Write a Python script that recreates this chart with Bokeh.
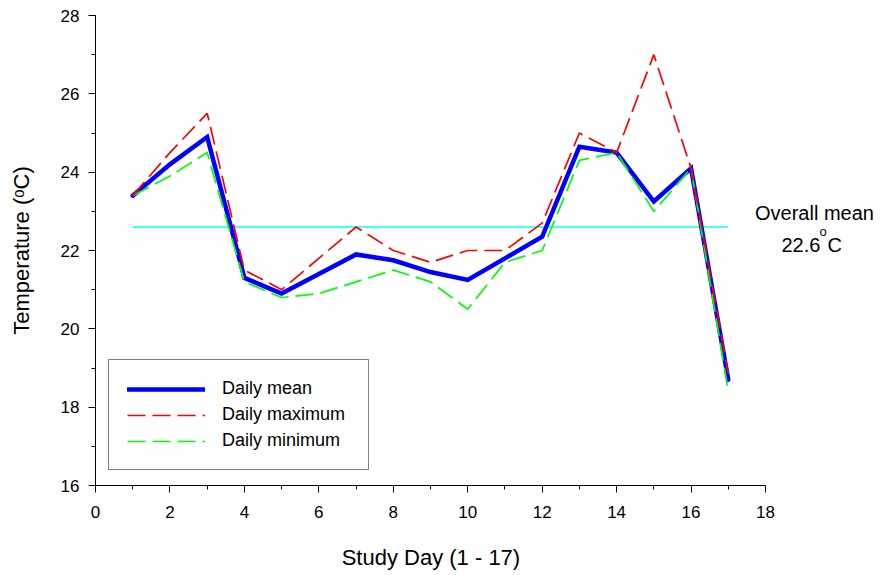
from bokeh.plotting import figure
from bokeh.models import Range1d, SingleIntervalTicker, Label, Legend, LegendItem, ColumnDataSource
from bokeh.embed import file_html
from bokeh.resources import INLINE

# ---- data ----
days = list(range(1, 18))
daily_mean = [23.4, 24.2, 24.9, 21.3, 20.9, 21.4, 21.9, 21.75, 21.45, 21.25, 21.8, 22.35, 24.65, 24.5, 23.25, 24.1, 18.7]
daily_max = [23.4, 24.5, 25.5, 21.5, 21.0, 21.8, 22.6, 22.0, 21.7, 22.0, 22.0, 22.7, 25.0, 24.5, 27.0, 24.1, 18.85]
daily_min = [23.4, 23.9, 24.5, 21.2, 20.8, 20.9, 21.2, 21.5, 21.2, 20.5, 21.7, 22.0, 24.3, 24.5, 23.0, 24.1, 18.4]
overall_mean = 22.6
mean_span = [1, 17]
x_title = "Study Day (1 - 17)"
y_title = "Temperature (\u1d52C)"
series_labels = ["Daily mean", "Daily maximum", "Daily minimum"]

FONT = "Liberation Sans"
W, H = 882, 575
L, T, B = 95, 15, 90
XMIN, XMAX, YMIN, YMAX = 0, 18, 16, 28
AXIS_W = 670                      # pixel length of the 0..18 axis
FW, FH = W - L, H - T - B          # frame extends to the right edge (room for the annotation)
XMAX_EXT = XMIN + FW * (XMAX - XMIN) / AXIS_W
# the axis title is centred on the (wider) frame; trailing no-break spaces
# shift its visible part back under the 0..18 axis
PAD = "\u00a0" * 19


def px2x(px):
    return XMIN + (px - L) * (XMAX - XMIN) / AXIS_W


def py2y(py):
    return YMIN + (T + FH - py) * (YMAX - YMIN) / FH


p = figure(width=W, height=H, x_range=Range1d(XMIN, XMAX_EXT), y_range=Range1d(YMIN, YMAX),
           output_backend="svg", toolbar_location=None,
           min_border_left=L, min_border_right=0, min_border_top=T, min_border_bottom=B)
p.outline_line_color = None
p.grid.visible = False
p.background_fill_color = "white"
p.border_fill_color = "white"

for ax in (p.xaxis[0], p.yaxis[0]):
    ax.ticker = SingleIntervalTicker(interval=2, num_minor_ticks=2)
    ax.major_tick_in = 0
    ax.major_tick_out = 7
    ax.minor_tick_in = 0
    ax.minor_tick_out = 4
    ax.axis_line_color = "black"
    ax.major_tick_line_color = "black"
    ax.minor_tick_line_color = "black"
    ax.major_label_text_font = FONT
    ax.major_label_text_font_size = "17px"
    ax.major_label_text_color = "black"
    ax.axis_label_text_font = FONT
    ax.axis_label_text_font_size = "22px"
    ax.axis_label_text_font_style = "normal"
    ax.axis_label_text_color = "black"
p.xaxis.bounds = (XMIN, XMAX)
p.xaxis.major_label_standoff = 13
p.yaxis.major_label_standoff = 9
p.xaxis.axis_label = x_title + PAD
p.xaxis.axis_label_standoff = 24
p.yaxis.axis_label = y_title
p.yaxis.axis_label_standoff = 24

src = ColumnDataSource(dict(day=days, mean=daily_mean, mx=daily_max, mn=daily_min))

p.line(x=mean_span, y=[overall_mean, overall_mean], line_color="#00FFFF", line_width=1.5)
r_mean = p.line("day", "mean", source=src, line_color="#0000FF", line_width=4.5, line_join="miter", line_cap="round")
r_min = p.line("day", "mn", source=src, line_color="#00FF00", line_width=1.7, line_dash="18 7")
r_max = p.line("day", "mx", source=src, line_color="#FF0000", line_width=1.7, line_dash="18 7")

legend = Legend(items=[LegendItem(label=series_labels[0], renderers=[r_mean]),
                       LegendItem(label=series_labels[1], renderers=[r_max]),
                       LegendItem(label=series_labels[2], renderers=[r_min])],
                location=(13, 15), orientation="vertical",
                glyph_width=78, glyph_height=20, label_height=20, label_width=128,
                label_standoff=17, spacing=5, padding=18, margin=0,
                border_line_color="black", border_line_width=1,
                background_fill_color="white", background_fill_alpha=1,
                label_text_font=FONT, label_text_font_size="18px", label_text_color="black")
p.add_layout(legend)


def lab(text, px, py, size, align="left"):
    p.add_layout(Label(x=px2x(px), y=py2y(py), text=text, text_font=FONT,
                       text_font_size=size, text_align=align, text_baseline="alphabetic",
                       text_color="black"))


# overall mean annotation
lab("Overall mean", 814, 212, "20px", "center")
lab("22.6", 781, 244, "20px")
lab("o", 819, 231, "13px")
lab("C", 827, 244, "20px")

open("out.html", "w").write(file_html(p, INLINE))
